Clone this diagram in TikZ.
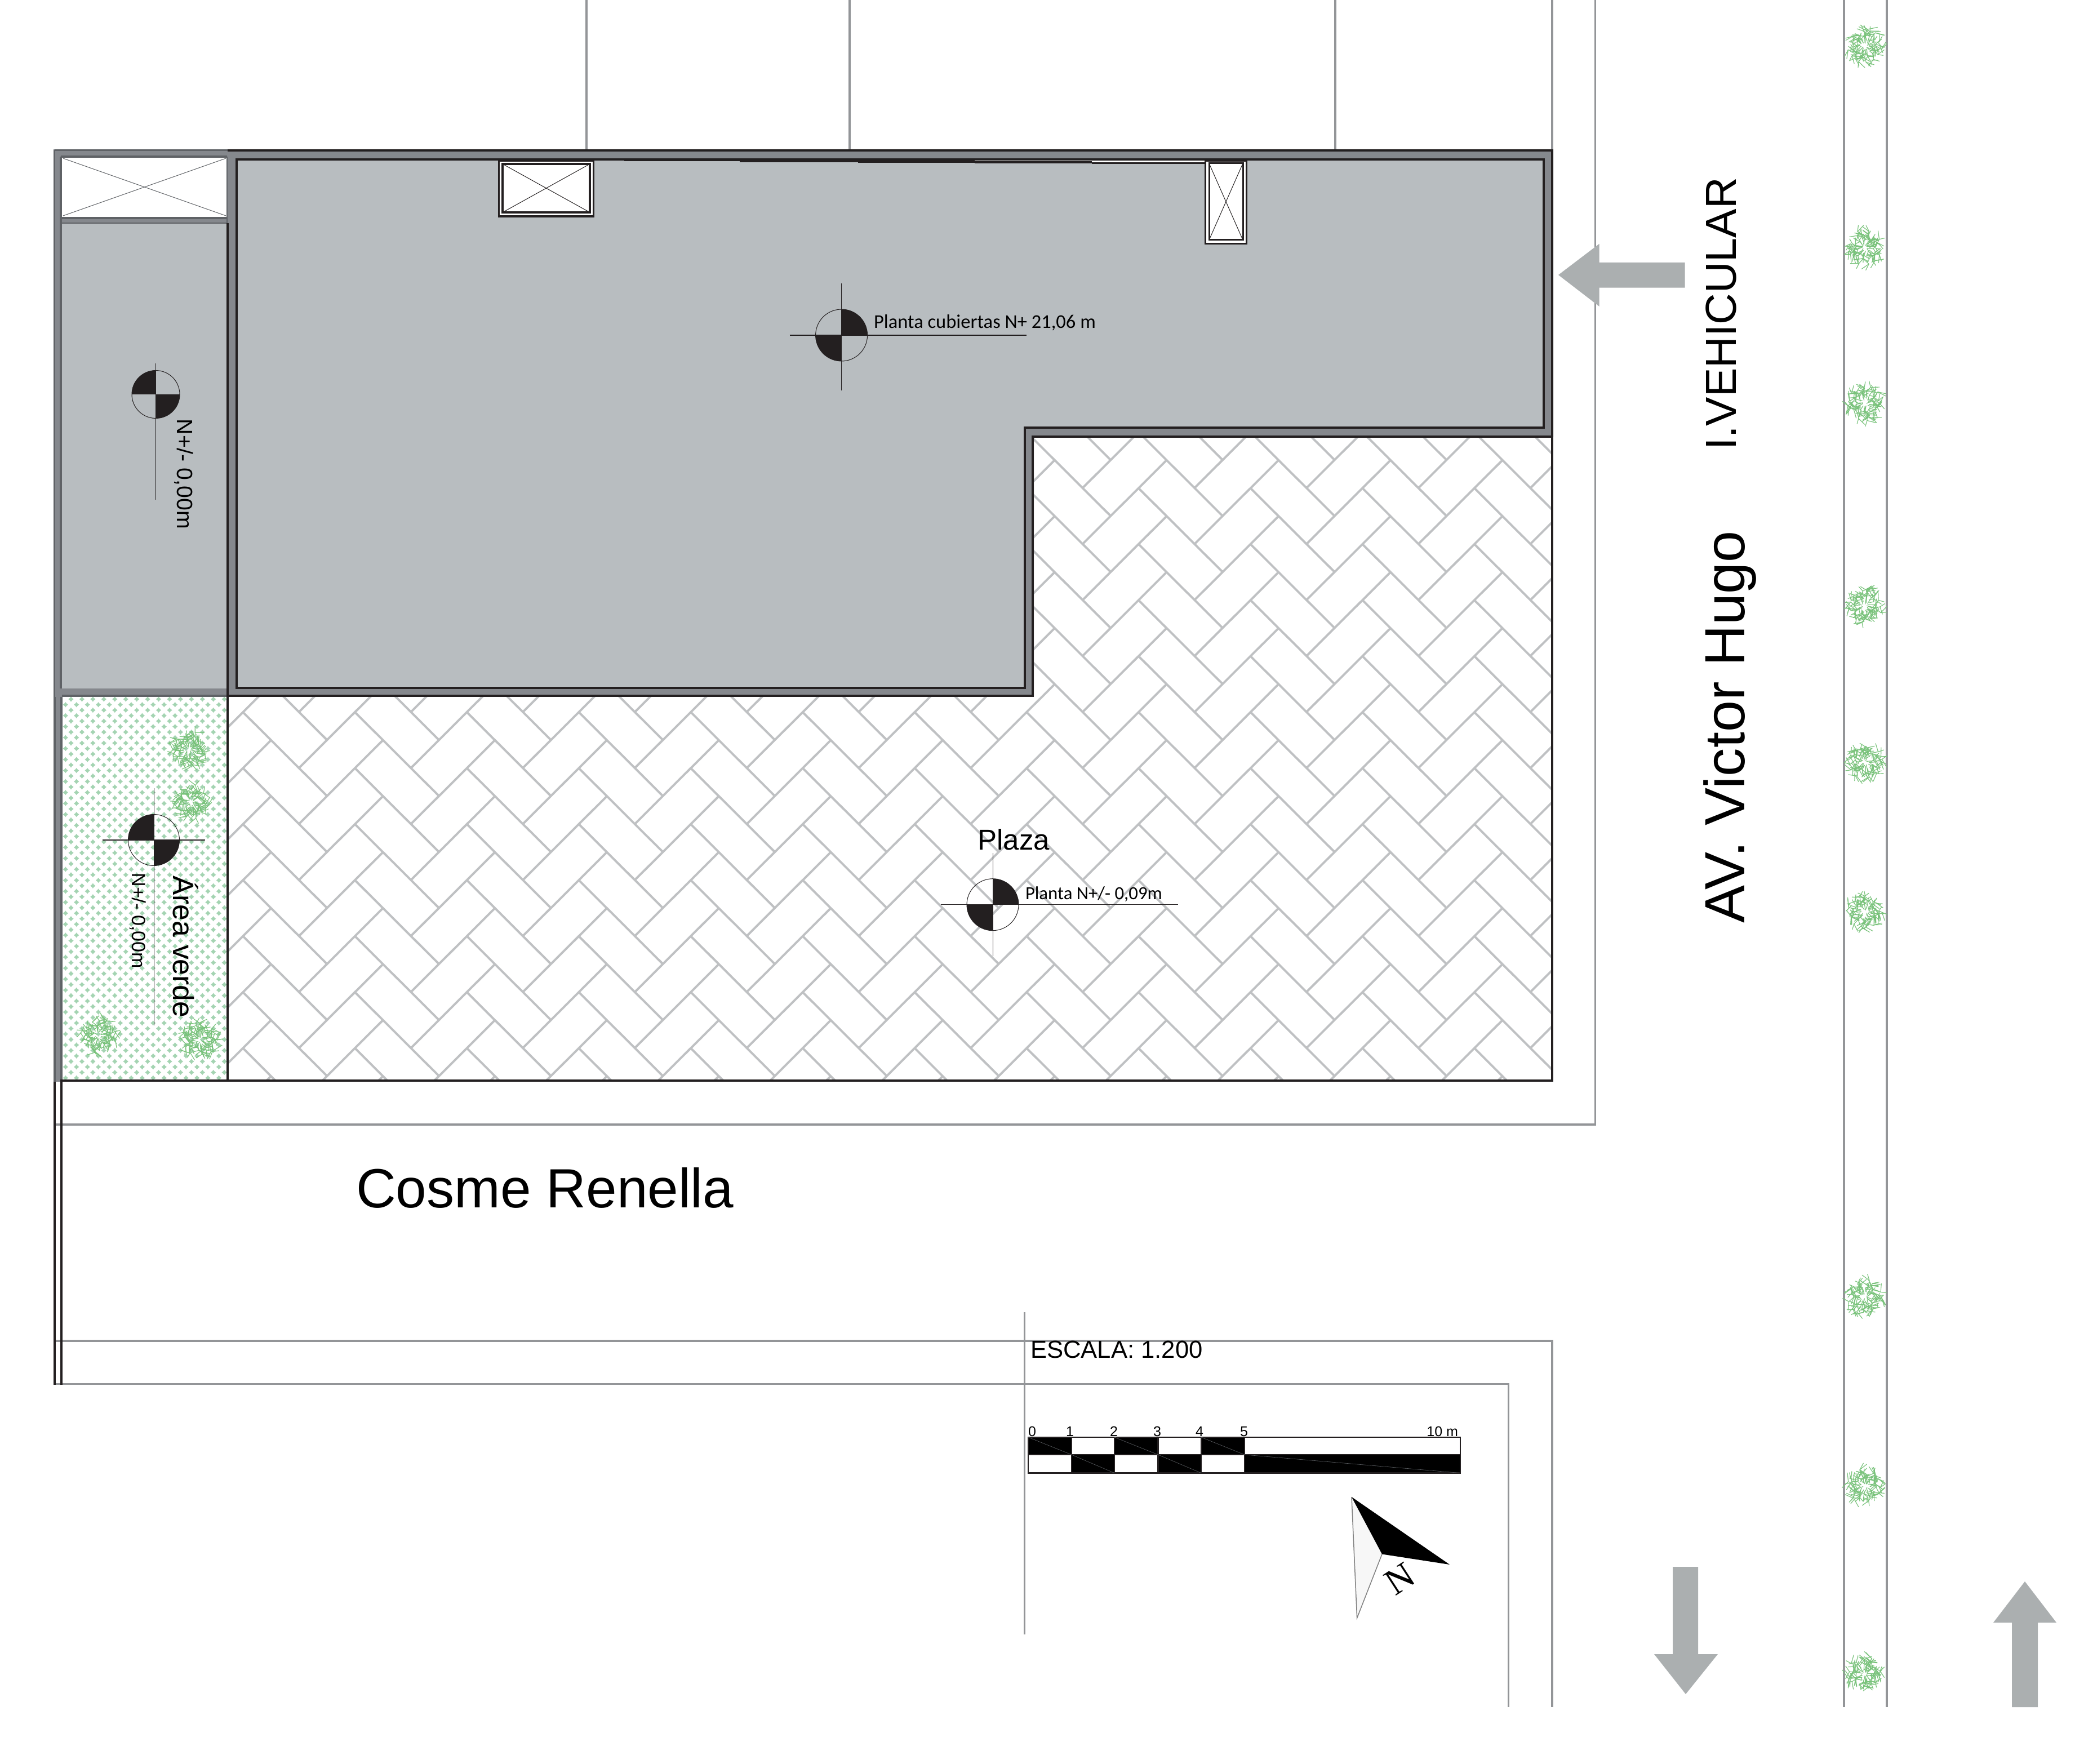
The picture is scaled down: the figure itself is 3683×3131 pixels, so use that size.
\documentclass[tikz,border=0pt]{standalone}
\usepackage{fontspec}
\setmainfont{Liberation Sans}
\newfontfamily\calfont{Carlito}
\newfontfamily\serfont{Liberation Serif}
\definecolor{roofgray}{HTML}{B8BDC0}
\definecolor{bandgray}{HTML}{85888D}
\definecolor{banddark}{HTML}{5F6266}
\definecolor{inkblack}{HTML}{231F20}
\definecolor{arrowgray}{HTML}{ABAFB0}
\definecolor{roadgray}{HTML}{939598}
\definecolor{hatchgray}{HTML}{BFC1C3}
\definecolor{grassdot}{HTML}{A4D4B2}
\definecolor{treegreen}{HTML}{78C27A}
\newcommand\fpx[1]{\fontsize{\fpeval{#1*0.28453}pt}{\fpeval{#1*0.34}pt}\selectfont}
\tikzset{
  px/.style={line width=#1*0.28453pt},
  road/.style={draw=roadgray,px=3.8},
  ink/.style={draw=inkblack,px=4},
  thinline/.style={draw=inkblack,px=1},
  hatchline/.style={draw=hatchgray,px=3.9},
  treeline/.style={draw=treegreen,px=1.15,line cap=round,line join=round},
  label/.style={inner sep=0,outer sep=0,text=black},
  bigarrow/.style={fill=arrowgray,draw=none}
}
\newcommand\lvlmark[4]{%
  \pgfmathsetmacro\aone{#4}\pgfmathsetmacro\atwo{#4+90}%
  \pgfmathsetmacro\athree{#4+180}\pgfmathsetmacro\afour{#4+270}%
  \fill[inkblack] (#1,#2) -- plot[variable=\t,domain=\aone:\atwo,samples=25] ({#1+#3*cos(\t)},{#2+#3*sin(\t)}) -- cycle;
  \fill[inkblack] (#1,#2) -- plot[variable=\t,domain=\athree:\afour,samples=25] ({#1+#3*cos(\t)},{#2+#3*sin(\t)}) -- cycle;
  \draw[thinline] plot[variable=\t,domain=0:360,samples=60] ({#1+#3*cos(\t)},{#2+#3*sin(\t)}) -- cycle;
}
\newcommand\treeat[2]{%
  \begin{scope}[shift={(#1,#2)}]
    \foreach \i in {1,...,34}{
      \pgfmathsetmacro\ang{\i*360/34+rnd*14}
      \pgfmathsetmacro\rr{24+rnd*17}
      \pgfmathsetmacro\ja{\ang+rnd*50-25}
      \pgfmathsetmacro\jb{\ang+rnd*40-20}
      \pgfmathsetmacro\jc{\ang+rnd*30-15}
      \pgfmathsetmacro\sa{\ja+32*(2*round(rnd)-1)}
      \pgfmathsetmacro\sb{\jb+22*(2*round(rnd)-1)}
      \pgfmathsetmacro\ra{\rr*(.1+.3*rnd)}\pgfmathsetmacro\rb{\rr*.5}\pgfmathsetmacro\rc{\rr*.75}
      \pgfmathsetmacro\rd{\rr*.72}\pgfmathsetmacro\re{\rr*.96}
      \draw[treeline] (\ang:\ra) -- (\ja:\rb) -- (\jb:\rc) -- (\jc:\rr);
      \draw[treeline] (\ja:\rb) -- (\sa:\rd);
      \draw[treeline] (\jb:\rc) -- (\sb:\re);
    }
  \end{scope}
}
\begin{document}
\begin{tikzpicture}[x=0.01cm,y=-0.01cm]
\useasboundingbox (0,0) rectangle (3683,3131);
\fill[white] (0,0) rectangle (3683,3131);
\pgfmathsetseed{7}

% --- roads and boundary lines
\draw[road] (1041,0) -- (1041,266);
\draw[road] (1508,0) -- (1508,266);
\draw[road] (2370,0) -- (2370,266);
\draw[road] (2755,0) -- (2755,266);
\draw[road] (2831.5,0) -- (2831.5,1996) -- (98,1996);
\draw[road] (98,2380) -- (2755,2380) -- (2755,3030);
\draw[road] (98,2456.5) -- (2677.5,2456.5) -- (2677.5,3030);
\draw[road] (1818.5,2329) -- (1818.5,2901);
\draw[road] (3272.7,0) -- (3272.7,3030);
\draw[road] (3349,0) -- (3349,3030);
\draw[ink] (97,1918) -- (97,2458);
\draw[ink] (109,1918) -- (109,2458);

% --- street trees
\foreach \ty in {82,439,716,1076,1353,1618,2302,2638,2971}{\treeat{3310}{\ty}}

% --- plaza herringbone paving
\begin{scope}
  \clip (404,1235) -- (1835,1235) -- (1835,775) -- (2755,775) -- (2755,1918) -- (404,1918) -- cycle;
  \foreach \m in {-3,...,13}{
    \foreach \k in {-10,...,7}{
      \pgfmathsetmacro\dx{431.7+198.7*\m}
      \pgfmathsetmacro\dy{1562.7+99.4*\k}
      \pgfmathsetmacro\ux{531.7+198.7*\m}
      \pgfmathsetmacro\uy{1660.3+99.4*\k}
      \draw[hatchline] (\dx,\dy) -- ++(148.2,147.8);
      \draw[hatchline] (\ux,\uy) -- ++(147.9,-147.6);
    }
  }
\end{scope}

% --- green area
\begin{scope}
  \clip (110,1236) rectangle (404,1917);
  \foreach \r in {0,...,70}{
    \pgfmathsetmacro\rx{126-9.72*mod(\r,2)}
    \pgfmathsetmacro\ry{1241+9.743*\r}
    \foreach \c in {0,...,15}{
      \pgfmathsetmacro\cx{\rx+19.44*\c}
      \fill[grassdot,shift={(\cx,\ry)}] (0,-4.6) -- (1.7,-2.3) -- (4.6,0) -- (1.7,2.3) -- (0,4.6) -- (-1.7,2.3) -- (-4.6,0) -- (-1.7,-2.3) -- cycle;
    }
  }
\end{scope}
\treeat{335.5}{1329}
\treeat{338}{1423}
\treeat{175}{1839}
\treeat{355.5}{1845}

% --- left column band
\fill[bandgray] (95,265) rectangle (404,1237);
\fill[bandgray] (95,1237) rectangle (110,1920);
\fill[banddark] (95,1237) rectangle (99,1920);
\fill[banddark] (106.5,1237) rectangle (110.5,1920);
\draw[draw=banddark,px=3] (96.5,266.5) -- (404,266.5);
\draw[draw=banddark,px=3] (96.5,266.5) -- (96.5,1237);
\fill[white] (109.5,279.5) rectangle (403,385);
\draw[draw=banddark,px=4] (108,278) -- (403,278);
\draw[draw=banddark,px=4] (108,278) -- (108,1222);
\draw[draw=banddark,px=4] (108,387) -- (403,387);
\draw[draw=banddark,px=3] (403,278) -- (403,396);
\draw[draw=banddark,px=1] (112,281) -- (401,383);
\draw[draw=banddark,px=1] (401,281) -- (112,383);
\fill[roofgray] (110,396) rectangle (403,1222);
\draw[draw=banddark,px=2] (110,396) -- (403,396);
\draw[draw=banddark,px=4] (110,1235) -- (404,1235);

% --- roof slab
\fill[bandgray] (404,265) -- (2757,265) -- (2757,776) -- (1835,776) -- (1835,1236.5) -- (404,1236.5) -- cycle;
\fill[roofgray] (420,283) -- (2739.5,283) -- (2739.5,759) -- (1819,759) -- (1819,1221) -- (420,1221) -- cycle;
\draw[ink] (420,283) -- (2739.5,283) -- (2739.5,759) -- (1819,759) -- (1819,1221) -- (420,1221) -- cycle;
\draw[ink] (404,267) -- (2755,267) -- (2755,1918) -- (404,1918) -- (404,1235) -- (1833,1235) -- (1833,775) -- (2755,775);
\draw[ink] (404,396) -- (404,1235);
\draw[ink,line cap=rect] (109,1918) -- (404,1918);
\fill[inkblack] (1108,283) rectangle (1313,286.5);
\fill[inkblack] (1313,283) rectangle (1523,288);
\fill[inkblack] (1523,283) rectangle (1730,289);
\fill[white] (1730,285) rectangle (1938,286);
\fill[inkblack] (1730,286) rectangle (1938,290);
\fill[white] (1938,285) rectangle (2139,288);
\fill[inkblack] (1938,288) rectangle (2139,291);

% --- roof openings
\draw[draw=inkblack,px=3.5,fill=white] (885.5,285) rectangle (1053.5,384);
\draw[draw=inkblack,px=4] (892,291) rectangle (1047,377);
\draw[thinline] (892,291) -- (1047,377);
\draw[thinline] (1047,291) -- (892,377);
\draw[draw=inkblack,px=3.5,fill=white] (2139.5,285) rectangle (2212.5,432.5);
\draw[draw=inkblack,px=3] (2146,290) rectangle (2206,426);
\draw[thinline] (2146,290) -- (2206,426);
\draw[thinline] (2206,290) -- (2146,426);

% --- level marks
\lvlmark{276.5}{700}{42.5}{180}
\draw[thinline] (276.5,645) -- (276.5,887);
\node[label,rotate=-90,anchor=base west,font=\fpx{39.2}] (lvlcell) at (314,744) {N+/- 0,00m};

\lvlmark{1493.6}{595}{46}{-90}
\draw[draw=inkblack,px=1.7] (1401.6,595) -- (1822,595);
\draw[thinline] (1493.6,503) -- (1493.6,693);
\node[label,anchor=base west,font=\calfont\fpx{34.5}] (lvlroof) at (1551,583) {Planta cubiertas N+ 21,06 m};

\lvlmark{1762}{1605.7}{46}{-90}
\draw[thinline] (1670,1605.7) -- (2091,1605.7);
\draw[thinline] (1762,1514) -- (1762,1697);
\node[label,anchor=base west,font=\calfont\fpx{32.8}] (lvlplaza) at (1820,1596.7) {Planta N+/- 0,09m};
\node[label,anchor=base west,font=\fpx{51}] (plaza) at (1735.5,1509) {Plaza};

\lvlmark{273}{1491}{45.5}{180}
\draw[draw=inkblack,px=1.5] (181.6,1491) -- (364,1491);
\draw[thinline] (273,1399) -- (273,1820);
\node[label,rotate=-90,anchor=base west,font=\fpx{34}] (lvlgreen) at (234,1549.5) {N+/- 0,00m};
\node[label,rotate=-90,anchor=base west,font=\fpx{51.5}] (green) at (307,1554) {Área verde};

% --- street names
\node[label,anchor=base west,font=\fpx{98}] (cosme) at (632,2143) {Cosme Renella};
\node[label,rotate=90,anchor=base west,font=\fpx{100.5}] (victor) at (3096,1639) {AV. Victor Hugo};
\node[label,rotate=90,anchor=base west,font=\fpx{77}] (ivehic) at (3081,799) {I.VEHICULAR};

% --- traffic arrows
\fill[bigarrow] (2766,488) -- (2838.7,432.7) -- (2838.7,466) -- (2990.7,466) -- (2990.7,510.7) -- (2838.7,510.7) -- (2838.7,544) -- cycle;
\fill[bigarrow] (2992,3007) -- (2936,2936) -- (2969,2936) -- (2969,2781) -- (3014,2781) -- (3014,2936) -- (3049,2936) -- cycle;
\fill[bigarrow] (3594,2807) -- (3650,2880) -- (3617,2880) -- (3617,3030) -- (3571,3030) -- (3571,2880) -- (3538,2880) -- cycle;

% --- scale
\node[label,anchor=base west,font=\fpx{43.6}] (escala) at (1829,2410) {ESCALA: 1.200};
\fill[black] (1825,2551) rectangle (1902,2582);
\fill[black] (1978,2551) rectangle (2055.5,2582);
\fill[black] (2132,2551) rectangle (2209,2582);
\fill[black] (1902,2582) rectangle (1978,2614.5);
\fill[black] (2055.5,2582) rectangle (2132,2614.5);
\fill[black] (2209,2582) rectangle (2592,2614.5);
\draw[draw=inkblack,px=2.8] (1825,2551) rectangle (2592,2614.5);
\draw[draw=inkblack,px=2.8] (1825,2582) -- (2592,2582);
\foreach \sx in {1902,1978,2055.5,2132,2209}{\draw[draw=inkblack,px=2.8] (\sx,2551) -- (\sx,2614.5);}
\draw[draw=banddark,px=0.6] (1825,2551) -- (1902,2582) -- (1978,2614.5);
\draw[draw=banddark,px=0.6] (1978,2551) -- (2055.5,2582) -- (2132,2614.5);
\draw[draw=banddark,px=0.6] (2132,2551) -- (2209,2582) -- (2592,2614.5);
\node[label,anchor=base,font=\fpx{25}] (s0) at (1832,2549) {0};
\node[label,anchor=base,font=\fpx{25}] (s1) at (1899,2549) {1};
\node[label,anchor=base,font=\fpx{25}] (s2) at (1977,2549) {2};
\node[label,anchor=base,font=\fpx{25}] (s3) at (2054,2549) {3};
\node[label,anchor=base,font=\fpx{25}] (s4) at (2129,2549) {4};
\node[label,anchor=base,font=\fpx{25}] (s5) at (2208,2549) {5};
\node[label,anchor=base east,font=\fpx{25}] (s10) at (2588,2549) {10 m};

% --- north arrow
\fill[black!3] (2399,2657) -- (2453,2758.5) -- (2408.6,2872) -- cycle;
\draw[draw=gray,px=1.5] (2399,2657) -- (2408.6,2872) -- (2453,2758.5);
\fill[black] (2399,2657) -- (2573,2777) -- (2453,2758.5) -- cycle;
\node[label,rotate=33,font=\serfont\fpx{66}] (north) at (2485,2802) {N};
\end{tikzpicture}
\end{document}
